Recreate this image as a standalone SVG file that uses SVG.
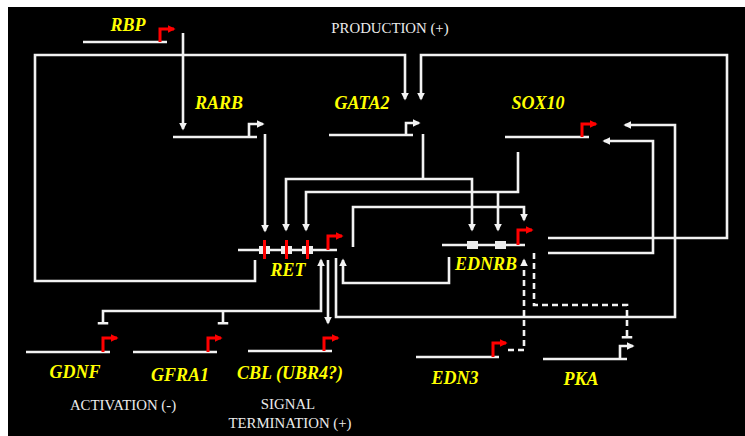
<svg xmlns="http://www.w3.org/2000/svg" width="745" height="436" viewBox="0 0 745 436">
<style>
.bg{fill:#000}
.gene{stroke:#f2f2f2;stroke-width:2.6;fill:none}
.prw{stroke:#f2f2f2;stroke-width:2.6;fill:none;marker-end:url(#aw)}
.prr{stroke:#ff0000;stroke-width:3;fill:none;marker-end:url(#ar)}
.box{fill:#ececec}
.bar{fill:#ff0000}
.lab{font-family:"Liberation Serif","DejaVu Serif",serif;font-weight:bold;font-style:italic;font-size:18px;fill:#ffff00;text-anchor:middle}
.cap{font-family:"Liberation Serif","DejaVu Serif",serif;font-size:14.8px;fill:#ececec;text-anchor:middle}
.c{stroke:#f2f2f2;stroke-width:2.6;fill:none;stroke-linejoin:miter}
.a{marker-end:url(#aw)}
.t{marker-end:url(#tb)}
.d{stroke-dasharray:6 4}
</style>
<defs>
<marker id="aw" viewBox="0 0 10 10" refX="8" refY="5" markerWidth="8" markerHeight="8" markerUnits="userSpaceOnUse" orient="auto"><path d="M0,0 L10,5 L0,10 z" fill="#f2f2f2"/></marker>
<marker id="ar" viewBox="0 0 10 10" refX="8" refY="5" markerWidth="8" markerHeight="8" markerUnits="userSpaceOnUse" orient="auto"><path d="M0,0 L10,5 L0,10 z" fill="#ff0000"/></marker>
<marker id="tb" viewBox="0 0 4 14" refX="2" refY="7" markerWidth="3" markerHeight="13" markerUnits="userSpaceOnUse" orient="auto"><rect x="0" y="0" width="4" height="14" fill="#f2f2f2"/></marker>
<marker id="ts" viewBox="0 0 4 14" refX="2" refY="7" markerWidth="3" markerHeight="13" markerUnits="userSpaceOnUse" orient="auto-start-reverse"><rect x="0" y="0" width="4" height="14" fill="#f2f2f2"/></marker>
</defs>
<rect width="745" height="436" fill="#ffffff"/>
<rect class="bg" x="8" y="7" width="737" height="429"/>

<text class="cap" x="390" y="33">PRODUCTION (+)</text>
<text class="cap" x="123" y="410">ACTIVATION (-)</text>
<text class="cap" x="288" y="409">SIGNAL</text>
<text class="cap" x="290" y="428">TERMINATION (+)</text>

<g id="connectors">
<path class="c a" d="M183,33 V129"/>
<path class="c a" d="M265,134 V231"/>
<path class="c" d="M423,134 V179"/>
<path class="c a" d="M423,179 H286 V230"/>
<path class="c a" d="M423,179 H472 V230"/>
<path class="c a" d="M518,152 V192 H306 V230"/>
<path class="c a" d="M498,192 V230"/>
<path class="c a" d="M353,247 V207 H524 V220"/>
<path class="c a" d="M255,260 V281 H35 V55 H405 V99"/>
<path class="c a" d="M548,238 H727 V55 H421 V99"/>
<path class="c a" d="M548,253 H653 V141 H604"/>
<path class="c a" d="M336,258 V317 H675 V125 H625"/>
<path class="c a" d="M449,257 V283 H343 V260"/>
<path class="c a" d="M103,323 V311 H321 V260" marker-start="url(#ts)"/>
<path class="c t" d="M223,311 V323"/>
<path class="c a" d="M328,260 V323"/>
<path class="c d a" d="M508,350 H524 V260"/>
<path class="c d t" d="M534,253 V305 H627 V337"/>
</g>

<g id="RBP">
<path class="gene" d="M83,42 H167"/>
<path class="prr" d="M160,42 V29 H174"/>
<text class="lab" x="128" y="31">RBP</text>
</g>
<g id="RARB">
<path class="gene" d="M173,137 H257"/>
<path class="prw" d="M249,137 V124 H263"/>
<text class="lab" x="219" y="109">RARB</text>
</g>
<g id="GATA2">
<path class="gene" d="M329,135 H413"/>
<path class="prw" d="M406,135 V123 H419"/>
<text class="lab" x="362" y="109">GATA2</text>
</g>
<g id="SOX10">
<path class="gene" d="M505,137 H589"/>
<path class="prr" d="M582,137 V124 H596"/>
<text class="lab" x="538" y="109">SOX10</text>
</g>
<g id="RET">
<path class="gene" d="M238,250 H337"/>
<rect class="box" x="259" y="246" width="11" height="8"/>
<rect class="box" x="281" y="246" width="11" height="8"/>
<rect class="box" x="302" y="246" width="11" height="8"/>
<rect class="bar" x="263" y="240" width="3" height="19"/>
<rect class="bar" x="285" y="240" width="3" height="19"/>
<rect class="bar" x="306" y="240" width="3" height="19"/>
<path class="prr" d="M328,250 V236 H342"/>
<text class="lab" x="288" y="276">RET</text>
</g>
<g id="EDNRB">
<path class="gene" d="M442,245 H525"/>
<rect class="box" x="467" y="241" width="11" height="8"/>
<rect class="box" x="495" y="241" width="11" height="8"/>
<path class="prr" d="M518,245 V230 H532"/>
<text class="lab" x="486" y="270">EDNRB</text>
</g>
<g id="GDNF">
<path class="gene" d="M26,352 H110"/>
<path class="prr" d="M103,352 V338 H117"/>
<text class="lab" x="75" y="378">GDNF</text>
</g>
<g id="GFRA1">
<path class="gene" d="M133,352 H217"/>
<path class="prr" d="M208,352 V338 H221"/>
<text class="lab" x="180" y="381">GFRA1</text>
</g>
<g id="CBL">
<path class="gene" d="M248,351 H332"/>
<path class="prr" d="M324,351 V338 H338"/>
<text class="lab" x="290" y="379">CBL (UBR4?)</text>
</g>
<g id="EDN3">
<path class="gene" d="M416,357 H499"/>
<path class="prr" d="M493,357 V343 H506"/>
<text class="lab" x="455" y="384">EDN3</text>
</g>
<g id="PKA">
<path class="gene" d="M543,359 H627"/>
<path class="prw" d="M620,359 V346 H633"/>
<text class="lab" x="581" y="385">PKA</text>
</g>
</svg>
